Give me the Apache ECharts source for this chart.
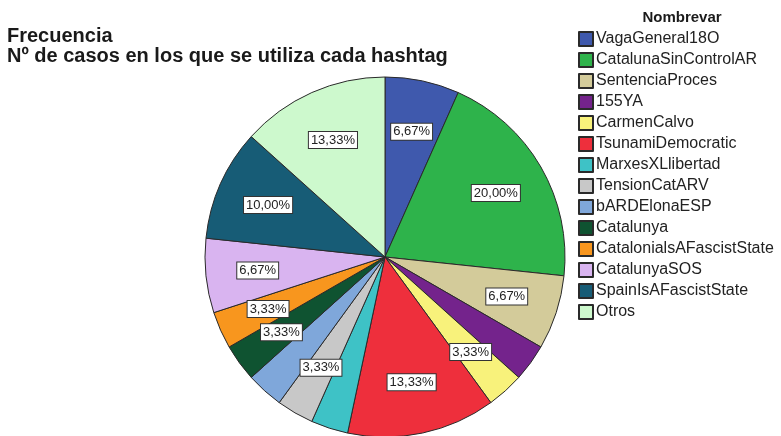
<!DOCTYPE html>
<html>
<head>
<meta charset="utf-8">
<script src="https://cdn.jsdelivr.net/npm/echarts@6/dist/echarts.min.js"></script>
<style>
  html, body { margin: 0; padding: 0; background: #fff; }
  #chart { width: 781px; height: 436px; }
</style>
</head>
<body>
<div id="chart"></div>
<script>
// Hashtags and the number of cases in which each one is used
const hashtags = [
  'VagaGeneral18O', 'CatalunaSinControlAR', 'SentenciaProces', '155YA',
  'CarmenCalvo', 'TsunamiDemocratic', 'MarxesXLlibertad', 'TensionCatARV',
  'bARDElonaESP', 'Catalunya', 'CatalonialsAFascistState', 'CatalunyaSOS',
  'SpainIsAFascistState', 'Otros'
];
const casos = [2, 6, 2, 1, 1, 4, 1, 1, 1, 1, 1, 2, 3, 4];
const colores = [
  '#3f59ad', '#2eb34b', '#d3cb9a', '#74238c', '#f8f27b', '#ee2f3c', '#3ec2c6',
  '#c8c8c8', '#7fa7da', '#0f5331', '#f8961e', '#d9b4f0', '#175c76', '#cdf9cd'
];
// Slices whose percentage is not printed
const sinEtiqueta = ['155YA', 'MarxesXLlibertad', 'bARDElonaESP'];

const total = casos.reduce((a, b) => a + b, 0);
const pct = v => (v / total * 100).toFixed(2).replace('.', ',') + '%';

const sectores = hashtags.map((h, i) => ({
  name: h,
  value: casos[i],
  itemStyle: { color: colores[i] }
}));

const etiquetas = hashtags.map((h, i) => ({
  name: h,
  value: casos[i],
  label: { show: sinEtiqueta.indexOf(h) < 0 }
}));

const chart = echarts.init(document.getElementById('chart'));
chart.setOption({
  animation: false,
  backgroundColor: '#ffffff',
  title: [{
    text: 'Frecuencia\nNº de casos en los que se utiliza cada hashtag',
    left: 2,
    top: 21,
    textStyle: {
      fontFamily: 'Liberation Sans',
      fontSize: 20,
      fontWeight: 'bold',
      lineHeight: 20,
      color: '#1a1a1a'
    }
  }, {
    text: 'Nombrevar',
    left: 677,
    top: 5,
    textAlign: 'center',
    textStyle: {
      fontFamily: 'Liberation Sans',
      fontSize: 15,
      fontWeight: 'bold',
      color: '#1a1a1a'
    }
  }],
  legend: {
    orient: 'vertical',
    left: 573,
    top: 26,
    icon: 'rect',
    itemWidth: 14,
    itemHeight: 14,
    itemGap: 5,
    data: hashtags,
    textStyle: {
      fontFamily: 'Liberation Sans',
      fontSize: 16,
      color: '#222',
      padding: [0, 0, 0, -2]
    }
  },
  series: [{
    type: 'pie',
    center: [385, 257],
    radius: [0, 180],
    startAngle: 90,
    clockwise: true,
    avoidLabelOverlap: false,
    silent: true,
    data: sectores,
    label: { show: false },
    labelLine: { show: false },
    itemStyle: { borderColor: '#2a2a2a', borderWidth: 1 }
  }, {
    // transparent ring that carries the percentage boxes further out from the centre
    type: 'pie',
    center: [385, 257],
    radius: [0, 250],
    startAngle: 90,
    clockwise: true,
    silent: true,
    legendHoverLink: false,
    avoidLabelOverlap: false,
    data: etiquetas,
    itemStyle: { color: 'rgba(0,0,0,0)', borderWidth: 0 },
    labelLine: { show: false },
    label: {
      position: 'inside',
      formatter: p => pct(p.value),
      fontFamily: 'Liberation Sans',
      fontSize: 13,
      color: '#222',
      backgroundColor: '#ffffff',
      borderColor: '#333',
      borderWidth: 1,
      padding: [2, 2, 1, 2]
    }
  }]
});
</script>
</body>
</html>
